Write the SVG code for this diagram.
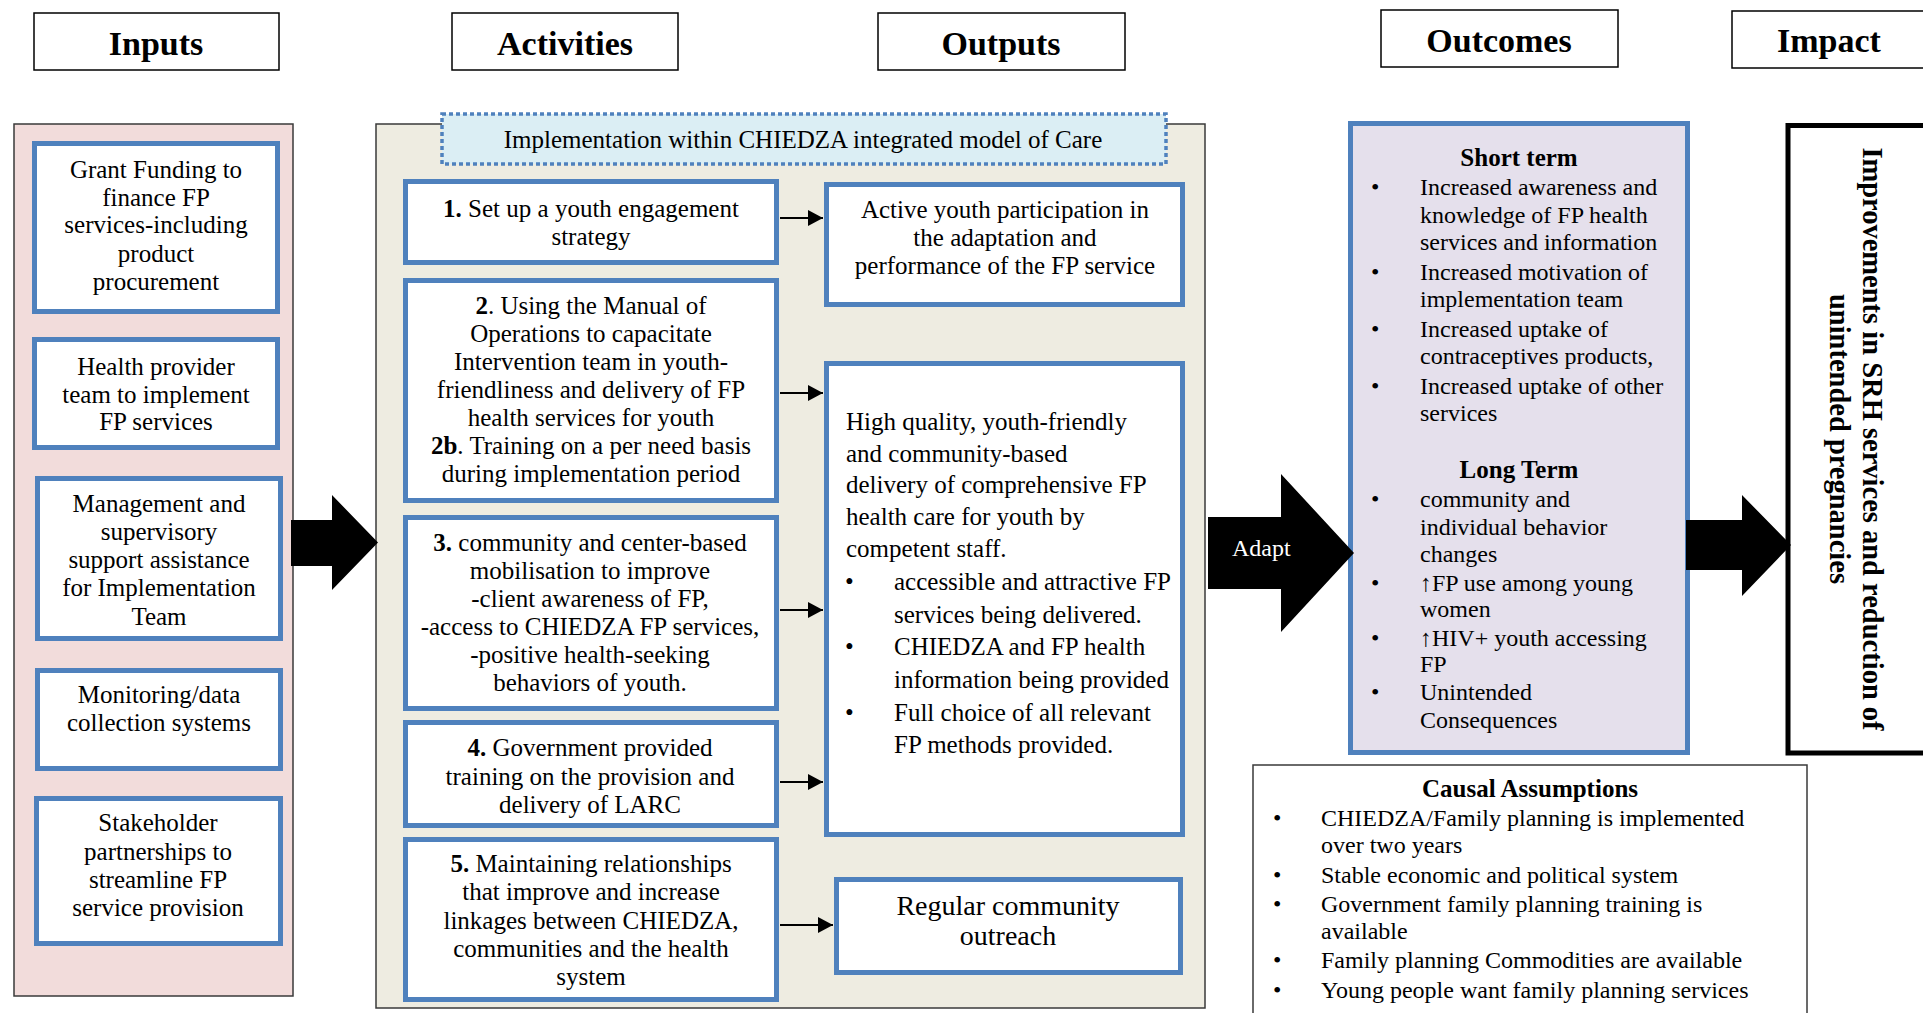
<svg xmlns="http://www.w3.org/2000/svg" width="1923" height="1013" viewBox="0 0 1923 1013">
<style>
  .hdr{fill:#fff;stroke:#000;stroke-width:1.5}
  .hdrt{font-family:"Liberation Serif",serif;font-weight:bold;font-size:34px;text-anchor:middle;fill:#000}
  .panel{stroke:#3a3a3a;stroke-width:1.5}
  .bx{fill:#fff;stroke:#4f81bd;stroke-width:5}
  .t{font-family:"Liberation Serif",serif;font-size:25px;fill:#000}
  .c{text-anchor:middle}
  .tt{font-family:"Liberation Serif",serif;font-size:24px;fill:#000}
  .b{font-weight:bold}
  .conn{stroke:#000;stroke-width:2;fill:none}
  .big{fill:#000}
</style>
<defs>
  <marker id="ah" markerUnits="userSpaceOnUse" markerWidth="16" markerHeight="16" refX="15" refY="8" orient="auto">
    <path d="M0,0 L15,8 L0,16 z" fill="#000"/>
  </marker>
</defs>
<rect width="1923" height="1013" fill="#fff"/>

<!-- Headers -->
<g id="hdr-inputs"><rect class="hdr" x="34" y="13" width="245" height="57"/><text class="hdrt" x="156" y="55">Inputs</text></g>
<g id="hdr-activities"><rect class="hdr" x="452" y="13" width="226" height="57"/><text class="hdrt" x="565" y="55">Activities</text></g>
<g id="hdr-outputs"><rect class="hdr" x="878" y="13" width="247" height="57"/><text class="hdrt" x="1001" y="55">Outputs</text></g>
<g id="hdr-outcomes"><rect class="hdr" x="1381" y="10" width="237" height="57"/><text class="hdrt" x="1499" y="52">Outcomes</text></g>
<g id="hdr-impact"><rect class="hdr" x="1732" y="11" width="196" height="57"/><text class="hdrt" x="1829" y="52">Impact</text></g>

<!-- Panels -->
<g id="inputs-panel"><rect class="panel" x="14" y="124" width="279" height="872" fill="#f2dcdb"/></g>
<g id="activities-panel"><rect class="panel" x="376" y="124" width="829" height="884" fill="#eeece1"/></g>

<g id="impl-banner">
  <rect x="442" y="114" width="724" height="50" fill="#dbeef4" stroke="#4f81bd" stroke-width="3.5" stroke-dasharray="4,3"/>
  <text class="t c" x="803" y="148">Implementation within CHIEDZA integrated model of Care</text>
</g>

<!-- Inputs -->
<g id="in1"><rect class="bx" x="34.5" y="143.5" width="243" height="168"/>
  <text class="t c" x="156"><tspan x="156" y="178">Grant Funding to</tspan><tspan x="156" y="206">finance FP</tspan><tspan x="156" y="233">services-including</tspan><tspan x="156" y="262">product</tspan><tspan x="156" y="290">procurement</tspan></text></g>
<g id="in2"><rect class="bx" x="34.5" y="339.5" width="243" height="108"/>
  <text class="t c"><tspan x="156" y="375">Health provider</tspan><tspan x="156" y="403">team to implement</tspan><tspan x="156" y="430">FP services</tspan></text></g>
<g id="in3"><rect class="bx" x="37.5" y="478.5" width="243" height="160"/>
  <text class="t c"><tspan x="159" y="512">Management and</tspan><tspan x="159" y="540">supervisory</tspan><tspan x="159" y="568">support assistance</tspan><tspan x="159" y="596">for Implementation</tspan><tspan x="159" y="625">Team</tspan></text></g>
<g id="in4"><rect class="bx" x="37.5" y="670.5" width="243" height="98"/>
  <text class="t c"><tspan x="159" y="703">Monitoring/data</tspan><tspan x="159" y="731">collection systems</tspan></text></g>
<g id="in5"><rect class="bx" x="36.5" y="798.5" width="244" height="145"/>
  <text class="t c"><tspan x="158" y="831">Stakeholder</tspan><tspan x="158" y="860">partnerships to</tspan><tspan x="158" y="888">streamline FP</tspan><tspan x="158" y="916">service provision</tspan></text></g>

<!-- Activities -->
<g id="act1"><rect class="bx" x="405.5" y="181.5" width="371" height="81"/>
  <text class="t c"><tspan x="591" y="217"><tspan class="b">1.</tspan> Set up a youth engagement</tspan><tspan x="591" y="245">strategy</tspan></text></g>
<g id="act2"><rect class="bx" x="405.5" y="280.5" width="371" height="220"/>
  <text class="t c"><tspan x="591" y="314"><tspan class="b">2</tspan>. Using the Manual of</tspan><tspan x="591" y="342">Operations to capacitate</tspan><tspan x="591" y="370">Intervention team in youth-</tspan><tspan x="591" y="398">friendliness and delivery of FP</tspan><tspan x="591" y="426">health services for youth</tspan><tspan x="591" y="454"><tspan class="b">2b</tspan>. Training on a per need basis</tspan><tspan x="591" y="482">during implementation period</tspan></text></g>
<g id="act3"><rect class="bx" x="405.5" y="517.5" width="371" height="191"/>
  <text class="t c"><tspan x="590" y="551"><tspan class="b">3.</tspan> community and center-based</tspan><tspan x="590" y="579">mobilisation to improve</tspan><tspan x="590" y="607">-client awareness of FP,</tspan><tspan x="590" y="635">-access to CHIEDZA FP services,</tspan><tspan x="590" y="663">-positive health-seeking</tspan><tspan x="590" y="691">behaviors of youth.</tspan></text></g>
<g id="act4"><rect class="bx" x="405.5" y="722.5" width="371" height="103"/>
  <text class="t c"><tspan x="590" y="756"><tspan class="b">4.</tspan> Government provided</tspan><tspan x="590" y="785">training on the provision and</tspan><tspan x="590" y="813">delivery of LARC</tspan></text></g>
<g id="act5"><rect class="bx" x="405.5" y="839.5" width="371" height="160"/>
  <text class="t c"><tspan x="591" y="872"><tspan class="b">5.</tspan> Maintaining relationships</tspan><tspan x="591" y="900">that improve and increase</tspan><tspan x="591" y="929">linkages between CHIEDZA,</tspan><tspan x="591" y="957">communities and the health</tspan><tspan x="591" y="985">system</tspan></text></g>

<!-- Outputs -->
<g id="out1"><rect class="bx" x="826.5" y="184.5" width="356" height="120"/>
  <text class="t c"><tspan x="1005" y="218">Active youth participation in</tspan><tspan x="1005" y="246">the adaptation and</tspan><tspan x="1005" y="274">performance of the FP service</tspan></text></g>
<g id="out2"><rect class="bx" x="826.5" y="363.5" width="356" height="471"/>
  <text class="t"><tspan x="846" y="430">High quality, youth-friendly</tspan><tspan x="846" y="462">and community-based</tspan><tspan x="846" y="493">delivery of comprehensive FP</tspan><tspan x="846" y="525">health care for youth by</tspan><tspan x="846" y="557">competent staff.</tspan></text>
  <text class="t"><tspan x="845" y="590">•</tspan><tspan x="845" y="655">•</tspan><tspan x="845" y="721">•</tspan></text>
  <text class="t"><tspan x="894" y="590">accessible and attractive FP</tspan><tspan x="894" y="623">services being delivered.</tspan><tspan x="894" y="655">CHIEDZA and FP health</tspan><tspan x="894" y="688">information being provided</tspan><tspan x="894" y="721">Full choice of all relevant</tspan><tspan x="894" y="753">FP methods provided.</tspan></text></g>
<g id="out3"><rect class="bx" x="836.5" y="879.5" width="344" height="93"/>
  <text class="t c" style="font-size:28px"><tspan x="1008" y="915">Regular community</tspan><tspan x="1008" y="945">outreach</tspan></text></g>

<!-- Outcomes -->
<g id="outcomes"><rect class="bx" x="1350.5" y="123.5" width="337" height="629" fill="#e5e0ec" style="fill:#e5e0ec"/>
  <text class="t c b" x="1519" y="166">Short term</text>
  <text class="tt"><tspan x="1371" y="195">•</tspan><tspan x="1371" y="280">•</tspan><tspan x="1371" y="337">•</tspan><tspan x="1371" y="394">•</tspan><tspan x="1371" y="507">•</tspan><tspan x="1371" y="591">•</tspan><tspan x="1371" y="646">•</tspan><tspan x="1371" y="700">•</tspan></text>
  <text class="tt"><tspan x="1420" y="195">Increased awareness and</tspan><tspan x="1420" y="223">knowledge of FP health</tspan><tspan x="1420" y="250">services and information</tspan><tspan x="1420" y="280">Increased motivation of</tspan><tspan x="1420" y="307">implementation team</tspan><tspan x="1420" y="337">Increased uptake of</tspan><tspan x="1420" y="364">contraceptives products,</tspan><tspan x="1420" y="394">Increased uptake of other</tspan><tspan x="1420" y="421">services</tspan></text>
  <text class="t c b" x="1519" y="478">Long Term</text>
  <text class="tt"><tspan x="1420" y="507">community and</tspan><tspan x="1420" y="535">individual behavior</tspan><tspan x="1420" y="562">changes</tspan><tspan x="1420" y="591">↑FP use among young</tspan><tspan x="1420" y="617">women</tspan><tspan x="1420" y="646">↑HIV+ youth accessing</tspan><tspan x="1420" y="672">FP</tspan><tspan x="1420" y="700">Unintended</tspan><tspan x="1420" y="728">Consequences</tspan></text></g>

<!-- Impact -->
<g id="impact"><rect x="1788" y="125.5" width="142" height="627.5" fill="#fff" stroke="#000" stroke-width="5"/>
  <g transform="translate(1863,439) rotate(90)">
    <text class="c b" style="font-family:'Liberation Serif',serif;font-size:28.5px"><tspan x="0" y="0">Improvements in SRH services and reduction of</tspan><tspan x="0" y="33">unintended pregnancies</tspan></text>
  </g></g>

<!-- Causal assumptions -->
<g id="causal"><rect x="1253" y="765" width="554" height="260" fill="#fff" stroke="#3a3a3a" stroke-width="1.5"/>
  <text class="t c b" x="1530" y="797">Causal Assumptions</text>
  <text class="tt"><tspan x="1273" y="826">•</tspan><tspan x="1273" y="883">•</tspan><tspan x="1273" y="912">•</tspan><tspan x="1273" y="968">•</tspan><tspan x="1273" y="998">•</tspan></text>
  <text class="tt"><tspan x="1321" y="826">CHIEDZA/Family planning is implemented</tspan><tspan x="1321" y="853">over two years</tspan><tspan x="1321" y="883">Stable economic and political system</tspan><tspan x="1321" y="912">Government family planning training is</tspan><tspan x="1321" y="939">available</tspan><tspan x="1321" y="968">Family planning Commodities are available</tspan><tspan x="1321" y="998">Young people want family planning services</tspan></text></g>

<!-- Connectors -->
<g id="connectors">
  <line class="conn" x1="780" y1="218" x2="823" y2="218" marker-end="url(#ah)"/>
  <line class="conn" x1="780" y1="393" x2="823" y2="393" marker-end="url(#ah)"/>
  <line class="conn" x1="780" y1="610" x2="823" y2="610" marker-end="url(#ah)"/>
  <line class="conn" x1="780" y1="782" x2="823" y2="782" marker-end="url(#ah)"/>
  <line class="conn" x1="780" y1="925" x2="833" y2="925" marker-end="url(#ah)"/>
  <polygon class="big" points="291,520 332,520 332,495 378,542.5 332,590 332,566 291,566"/>
  <polygon class="big" points="1208,517 1281,517 1281,474 1354,553 1281,632 1281,589 1208,589"/>
  <text x="1232" y="556" style="font-family:'Liberation Serif',serif;font-size:24px;fill:#fff">Adapt</text>
  <polygon class="big" points="1686,520 1742,520 1742,495 1791,545 1742,596 1742,570 1686,570"/>
</g>
</svg>
